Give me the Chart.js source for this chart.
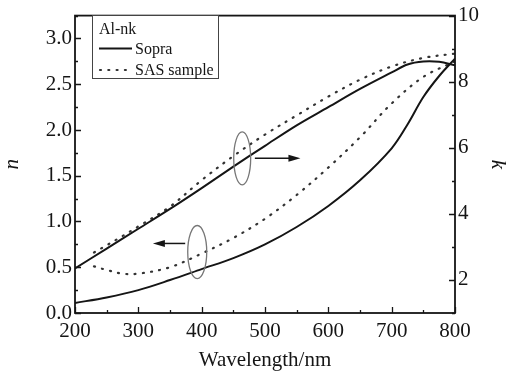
<!DOCTYPE html>
<html><head><meta charset="utf-8">
<script src="https://cdn.jsdelivr.net/npm/chart.js@4"></script>
<style>html,body{margin:0;padding:0;background:#fff}canvas{display:block}</style>
</head><body>
<canvas id="c" width="510" height="373" style="width:510px;height:373px"></canvas>
<script>
// ---- data ----
const sopraWavelength = [200,250,300,350,400,450,500,550,600,650,700,725,750,775,800];
const sopraN = [0.11,0.17,0.25,0.36,0.48,0.60,0.75,0.94,1.17,1.45,1.80,2.06,2.36,2.59,2.78];
const sopraK = [2.35,2.95,3.55,4.15,4.78,5.43,6.06,6.68,7.23,7.78,8.28,8.52,8.61,8.60,8.50];
const sasWavelength = [230,250,275,300,350,400,450,500,550,600,650,700,750,800];
const sasN = [0.51,0.47,0.43,0.43,0.50,0.65,0.82,1.03,1.29,1.59,1.92,2.29,2.58,2.75];
const sasK = [2.83,3.05,3.33,3.62,4.22,5.02,5.75,6.40,6.98,7.55,8.06,8.46,8.72,8.85];
const xTicks = [200,300,400,500,600,700,800];
const nTicks = [0,0.5,1.0,1.5,2.0,2.5,3.0];
const kTicks = [2,4,6,8,10];
const legendTitle = 'Al-nk';
const seriesNames = ['Sopra','SAS sample'];
const xTitle = 'Wavelength/nm';
const nTitle = 'n';
const kTitle = 'k';

// ---- styling ----
const FONT = '"Liberation Serif", "Times New Roman", serif';
const INK = '#151515';
const DOT = [1, 7.3];

function pts(xs, ys){ return xs.map((x,i)=>({x:x, y:ys[i]})); }

const annotations = {
  ellipses: [ {x:464, y:1.69, rx:13.4, ry:0.29}, {x:393, y:0.666, rx:15, ry:0.29} ],
  arrows: [ {x1:484, x2:556, y:1.69}, {x1:374, x2:323, y:0.76} ]
};

const framePlugin = {
  id:'frame',
  afterDatasetsDraw(chart){
    const ctx = chart.ctx, a = chart.chartArea;
    const sx = chart.scales.x, sn = chart.scales.y, sk = chart.scales.k;
    ctx.save();
    ctx.strokeStyle = INK; ctx.lineWidth = 1.3;
    ctx.beginPath();
    for (let v=200; v<=800; v+=50){
      const p = Math.round(sx.getPixelForValue(v))+0.5;
      const L = v%100===0 ? 6 : 3;
      ctx.moveTo(p, a.bottom); ctx.lineTo(p, a.bottom-L);
    }
    for (let i=0; i<=13; i++){
      const v = i*0.25;
      const p = Math.round(sn.getPixelForValue(v))+0.5;
      const L = i%2===0 ? 6 : 3;
      ctx.moveTo(a.left, p); ctx.lineTo(a.left+L, p);
    }
    for (let v=1; v<=10; v++){
      const p = Math.round(sk.getPixelForValue(v))+0.5;
      const L = v%2===0 ? 6 : 3;
      ctx.moveTo(a.right, p); ctx.lineTo(a.right-L, p);
    }
    ctx.stroke();
    ctx.lineWidth = 1.8;
    ctx.strokeRect(a.left, a.top, a.right-a.left, a.bottom-a.top);

    // annotations
    ctx.strokeStyle = '#777'; ctx.lineWidth = 1.3;
    annotations.ellipses.forEach(e=>{
      const cx = sx.getPixelForValue(e.x), cy = sn.getPixelForValue(e.y);
      const rx = sx.getPixelForValue(e.x+e.rx)-cx, ry = cy - sn.getPixelForValue(e.y+e.ry);
      ctx.beginPath(); ctx.ellipse(cx, cy, rx, ry, 0, 0, Math.PI*2); ctx.stroke();
    });
    ctx.strokeStyle = INK; ctx.fillStyle = INK; ctx.lineWidth = 1.5;
    annotations.arrows.forEach(r=>{
      const x1 = sx.getPixelForValue(r.x1), x2 = sx.getPixelForValue(r.x2), y = sn.getPixelForValue(r.y);
      const d = Math.sign(x2-x1);
      ctx.beginPath(); ctx.moveTo(x1,y); ctx.lineTo(x2-d*8,y); ctx.stroke();
      ctx.beginPath(); ctx.moveTo(x2,y); ctx.lineTo(x2-d*12,y-3.5); ctx.lineTo(x2-d*12,y+3.5); ctx.closePath(); ctx.fill();
    });

    // legend
    const bx=92, by=15, bw=126, bh=63;
    ctx.fillStyle='#fff'; ctx.fillRect(bx,by,bw,bh);
    ctx.strokeStyle='#444'; ctx.lineWidth=1; ctx.strokeRect(bx+0.5,by+0.5,bw,bh);
    ctx.fillStyle=INK; ctx.font='16px '+FONT; ctx.textBaseline='alphabetic'; ctx.textAlign='left';
    ctx.fillText(legendTitle, bx+7, by+19);
    ctx.fillText(seriesNames[0], bx+43, by+39);
    ctx.fillText(seriesNames[1], bx+43, by+60);
    ctx.strokeStyle=INK; ctx.lineWidth=2;
    ctx.beginPath(); ctx.moveTo(bx+7, by+33.5); ctx.lineTo(bx+40, by+33.5); ctx.stroke();
    ctx.strokeStyle='#333'; ctx.lineWidth=2.2; ctx.lineCap='round'; ctx.setLineDash(DOT);
    ctx.beginPath(); ctx.moveTo(bx+8, by+55); ctx.lineTo(bx+40, by+55); ctx.stroke();
    ctx.restore();
  }
};

function fixTicks(list){ return s => { s.ticks = list.map(v=>({value:v})); }; }

new Chart(document.getElementById('c'), {
  type:'line',
  data:{
    datasets:[
      {label:seriesNames[0]+' n', data:pts(sopraWavelength, sopraN), yAxisID:'y', borderColor:INK, borderWidth:2},
      {label:seriesNames[1]+' n', data:pts(sasWavelength, sasN), yAxisID:'y', borderColor:'#333', borderWidth:2.2, borderDash:DOT, borderCapStyle:'round'},
      {label:seriesNames[0]+' k', data:pts(sopraWavelength, sopraK), yAxisID:'k', borderColor:INK, borderWidth:2},
      {label:seriesNames[1]+' k', data:pts(sasWavelength, sasK), yAxisID:'k', borderColor:'#333', borderWidth:2.2, borderDash:DOT, borderCapStyle:'round'}
    ]
  },
  options:{
    responsive:false, animation:false, devicePixelRatio:1,
    layout:{padding:{top:13,left:0,right:0,bottom:0}},
    elements:{point:{radius:0}, line:{tension:0.35, fill:false}},
    plugins:{legend:{display:false}, tooltip:{enabled:false}},
    scales:{
      x:{type:'linear', position:'bottom', min:200, max:800,
        afterBuildTicks:fixTicks(xTicks),
        afterFit:s=>{s.height=60;},
        grid:{display:false, drawTicks:false}, border:{display:false},
        ticks:{color:INK, font:{family:FONT, size:21}, padding:6, maxRotation:0, autoSkip:false},
        title:{display:true, text:xTitle, color:INK, font:{family:FONT, size:21}, padding:{top:0,bottom:0}}
      },
      y:{type:'linear', position:'left', min:0, max:3.25,
        afterBuildTicks:fixTicks(nTicks),
        afterFit:s=>{s.width=75;},
        grid:{display:false, drawTicks:false}, border:{display:false},
        ticks:{color:INK, font:{family:FONT, size:21}, padding:3, callback:v=>v.toFixed(1)},
        title:{display:true, text:nTitle, color:INK, font:{family:FONT, size:21, style:'italic'}, padding:{top:0,bottom:0}}
      },
      k:{type:'linear', position:'right', min:1, max:10,
        afterBuildTicks:fixTicks(kTicks),
        afterFit:s=>{s.width=55;},
        grid:{display:false, drawTicks:false}, border:{display:false},
        ticks:{color:INK, font:{family:FONT, size:21}, padding:3},
        title:{display:true, text:kTitle, color:INK, font:{family:FONT, size:21, style:'italic'}, padding:{top:0,bottom:0}}
      }
    }
  },
  plugins:[framePlugin]
});
</script>
</body></html>
